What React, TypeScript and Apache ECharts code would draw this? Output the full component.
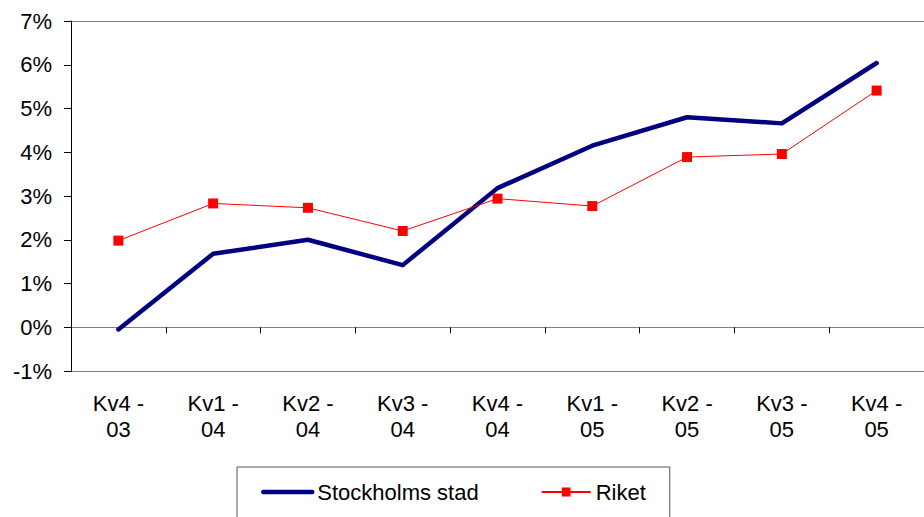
import React, { useEffect, useRef } from "react";
import * as echarts from "echarts";

const categories = ["Kv4 -\n03", "Kv1 -\n04", "Kv2 -\n04", "Kv3 -\n04", "Kv4 -\n04", "Kv1 -\n05", "Kv2 -\n05", "Kv3 -\n05", "Kv4 -\n05"];
const stockholm = [-0.05, 1.68, 2.0, 1.42, 3.18, 4.15, 4.8, 4.66, 6.04];
const riket = [1.98, 2.83, 2.73, 2.2, 2.94, 2.77, 3.89, 3.96, 5.41];
const yMin = -1;
const yMax = 7;

const FONT = "'Liberation Sans', Arial, sans-serif";

export default function App() {
  const ref = useRef<HTMLDivElement>(null);
  useEffect(() => {
    if (!ref.current) return;
    const chart = echarts.init(ref.current, undefined, { renderer: "svg" });
    const splitColors: string[] = [];
    for (let v = yMin; v <= yMax; v++) {
      splitColors.push(v === yMin || v === 0 || v === yMax ? "#808080" : "transparent");
    }
    chart.setOption({
      animation: false,
      backgroundColor: "#ffffff",
      textStyle: { fontFamily: FONT, color: "#000" },
      grid: { left: 71, top: 21, right: -3, bottom: 146, containLabel: false },
      legend: {
        left: 237,
        top: 467,
        padding: [14, 24, 40, 24],
        borderColor: "#555",
        borderWidth: 1,
        backgroundColor: "#fff",
        itemWidth: 49,
        itemHeight: 11,
        itemGap: 62,
        textStyle: { fontFamily: FONT, fontSize: 22, color: "#000" },
        data: [
          {
            name: "Stockholms stad",
            itemStyle: { color: "transparent", opacity: 0, borderWidth: 0 },
            lineStyle: { width: 4.5, color: "#000080", cap: "round" },
          },
          { name: "Riket" },
        ],
      },
      xAxis: [
        {
          type: "category",
          data: categories,
          boundaryGap: true,
          position: "bottom",
          axisLine: { show: false, onZero: false },
          axisTick: { show: false },
          axisLabel: {
            interval: 0,
            margin: 19,
            fontSize: 22,
            lineHeight: 26,
            color: "#000",
            fontFamily: FONT,
          },
          splitLine: { show: false },
        },
        {
          type: "category",
          data: categories,
          boundaryGap: true,
          position: "bottom",
          axisLine: { show: true, onZero: true, lineStyle: { color: "#808080", width: 1 } },
          axisTick: { show: true, length: 6, lineStyle: { color: "#000", width: 1 } },
          axisLabel: { show: false },
          splitLine: { show: false },
        },
      ],
      yAxis: {
        type: "value",
        min: yMin,
        max: yMax,
        interval: 1,
        axisLine: { show: true, lineStyle: { color: "#000", width: 1 } },
        axisTick: { show: true, length: 7, lineStyle: { color: "#000" } },
        axisLabel: {
          formatter: "{value}%",
          fontSize: 22,
          margin: 19,
          color: "#000",
          fontFamily: FONT,
        },
        splitLine: { show: true, lineStyle: { color: splitColors, width: 1 } },
      },
      series: [
        {
          name: "Stockholms stad",
          type: "line",
          data: stockholm,
          xAxisIndex: 0,
          symbol: "none",
          lineStyle: { color: "#000080", width: 4.5, cap: "round", join: "round" },
          itemStyle: { color: "#000080" },
          z: 3,
        },
        {
          name: "Riket",
          type: "line",
          data: riket,
          xAxisIndex: 0,
          symbol: "rect",
          symbolSize: 10,
          lineStyle: { color: "#ff0000", width: 1 },
          itemStyle: { color: "#ff0000" },
          z: 4,
        },
      ],
    });
    return () => chart.dispose();
  }, []);
  return (
    <div
      ref={ref}
      style={{ position: "absolute", left: 0, top: 0, width: 924, height: 517, overflow: "hidden" }}
    />
  );
}
